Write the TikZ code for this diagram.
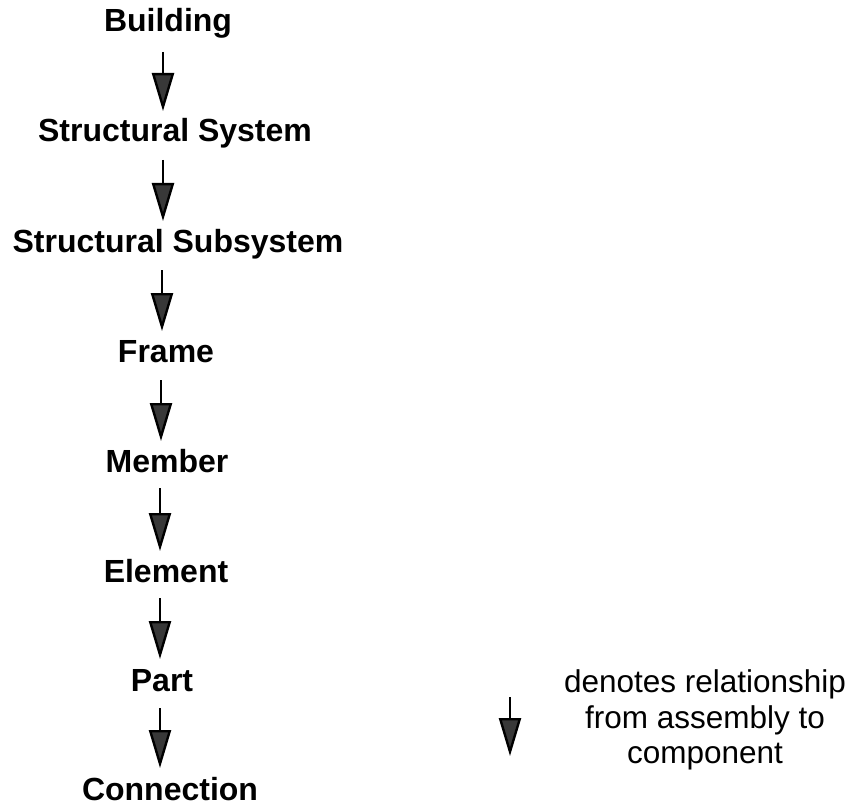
\documentclass[tikz,border=0pt]{standalone}
\usepackage{fontspec}
\setmainfont{Liberation Sans}
\usetikzlibrary{arrows.meta,calc}
\begin{document}
\begin{tikzpicture}[x=1pt,y=-1pt,
  level/.style={font=\bfseries\fontsize{32}{36}\selectfont, inner sep=0pt, anchor=base},
  legendtext/.style={font=\fontsize{31.5}{35.5}\selectfont, inner sep=0pt, align=center},
  link/.style={line width=2.4pt, -{Triangle[width=22pt,length=38pt,fill=black!78]}}]
\useasboundingbox (0,0) rectangle (856,805);

% hierarchy levels
\node[level] (bld)  at (168,32)  {Building};
\node[level] (sys)  at (175,142) {Structural System};
\node[level] (sub)  at (178,252) {Structural Subsystem};
\node[level] (frm)  at (166,362) {Frame};
\node[level] (mem)  at (167,472) {Member};
\node[level] (ele)  at (166,582) {Element};
\node[level] (prt)  at (162,691) {Part};
\node[level] (con)  at (170,800) {Connection};

% x positions of the connecting arrows
\coordinate (x1) at (163,0);
\coordinate (x2) at (163,0);
\coordinate (x3) at (162,0);
\coordinate (x4) at (161,0);
\coordinate (x5) at (160,0);
\coordinate (x6) at (160,0);
\coordinate (x7) at (160,0);

\draw[link] ($(bld.base -| x1)+(0,20)$) -- ($(sys.base -| x1)+(0,-31)$);
\draw[link] ($(sys.base -| x2)+(0,18)$) -- ($(sub.base -| x2)+(0,-31)$);
\draw[link] ($(sub.base -| x3)+(0,18)$) -- ($(frm.base -| x3)+(0,-31)$);
\draw[link] ($(frm.base -| x4)+(0,18)$) -- ($(mem.base -| x4)+(0,-31)$);
\draw[link] ($(mem.base -| x5)+(0,16)$) -- ($(ele.base -| x5)+(0,-31)$);
\draw[link] ($(ele.base -| x6)+(0,16)$) -- ($(prt.base -| x6)+(0,-32)$);
\draw[link] ($(prt.base -| x7)+(0,17)$) -- ($(con.base -| x7)+(0,-32)$);

% legend
\coordinate (lgtop) at (510,697);
\coordinate (lgtip) at (510,756);
\draw[link] (lgtop) -- (lgtip);
\node[legendtext] (note) at (705,720) {denotes relationship\\from assembly to\\component};
\end{tikzpicture}
\end{document}
